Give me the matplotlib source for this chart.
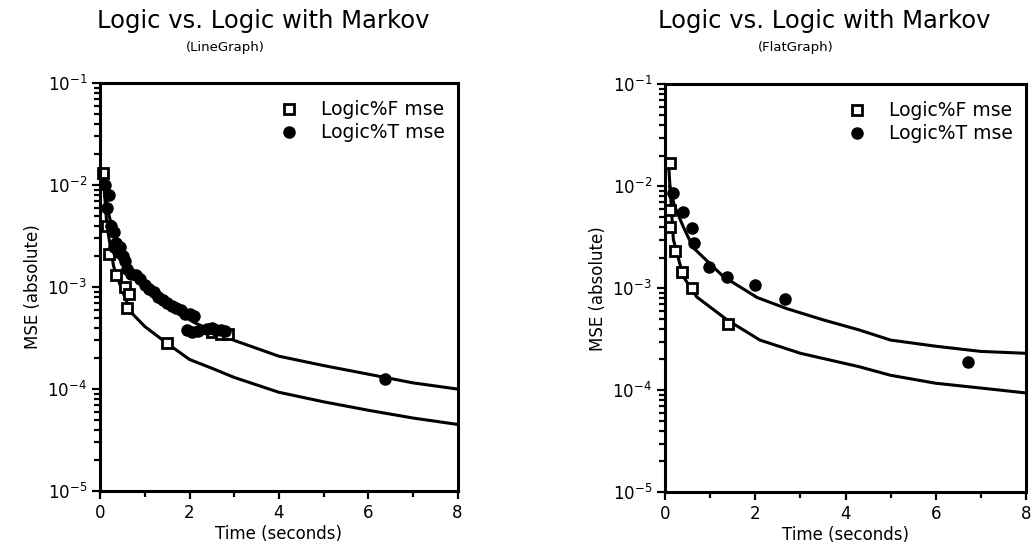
import numpy as np
import matplotlib
matplotlib.use("Agg")
import matplotlib.pyplot as plt
from matplotlib.ticker import MultipleLocator, LogLocator

# ---- left panel (LineGraph) ----
line_t_F = [0.07, 0.15, 0.3, 0.5, 0.7, 1.0, 1.5, 2.0, 2.5, 3.0, 4.0, 5.0, 6.0, 7.0, 8.0]
line_v_F = [1.2e-2, 4e-3, 1.6e-3, 9e-4, 5.6e-4, 4.1e-4, 2.8e-4, 1.95e-4, 1.6e-4,
            1.3e-4, 9.3e-5, 7.5e-5, 6.2e-5, 5.2e-5, 4.5e-5]
line_t_T = [0.08, 0.2, 0.35, 0.5, 0.8, 1.4, 2.1, 3.0, 4.0, 5.0, 6.0, 7.0, 8.0]
line_v_T = [1e-2, 5e-3, 2.8e-3, 1.9e-3, 1.25e-3, 7e-4, 4.5e-4, 3.0e-4, 2.1e-4,
            1.7e-4, 1.4e-4, 1.15e-4, 1.0e-4]

line_sq_t = [0.07, 0.15, 0.2, 0.35, 0.55, 0.6, 0.65, 1.5, 2.5, 2.7, 2.85]
line_sq_v = [1.3e-2, 4e-3, 2.1e-3, 1.3e-3, 1.0e-3, 6.3e-4, 8.5e-4, 2.8e-4,
             3.6e-4, 3.5e-4, 3.5e-4]
line_ci_t = [0.1, 0.15, 0.2, 0.25, 0.3, 0.3, 0.35, 0.4, 0.45, 0.5, 0.55, 0.6, 0.7,
             0.8, 0.9, 1.0, 1.1, 1.2, 1.3, 1.4, 1.5, 1.6, 1.7, 1.8, 1.9, 2.0, 2.1,
             1.95, 2.05, 2.2, 2.4, 2.5, 2.6, 2.7, 2.8, 6.37]
line_ci_v = [1e-2, 6e-3, 8e-3, 4e-3, 3.5e-3, 2.5e-3, 2.7e-3, 2.2e-3, 2.5e-3, 2.0e-3,
             1.8e-3, 1.5e-3, 1.35e-3, 1.3e-3, 1.2e-3, 1.05e-3, 9.5e-4, 9.0e-4,
             8.0e-4, 7.5e-4, 7.0e-4, 6.5e-4, 6.2e-4, 6.0e-4, 5.5e-4, 5.5e-4, 5.2e-4,
             3.8e-4, 3.6e-4, 3.7e-4, 3.9e-4, 4.0e-4, 3.8e-4, 3.8e-4, 3.7e-4, 1.25e-4]

# ---- right panel (FlatGraph) ----
flat_t_F = [0.08, 0.18, 0.4, 0.7, 1.37, 2.1, 3.0, 4.3, 5.0, 6.0, 7.0, 8.0]
flat_v_F = [1.5e-2, 3e-3, 1.3e-3, 8.2e-4, 4.9e-4, 3.1e-4, 2.3e-4, 1.7e-4, 1.4e-4,
            1.17e-4, 1.05e-4, 9.4e-5]
flat_t_T = [0.1, 0.2, 0.4, 0.62, 1.29, 2.04, 2.7, 3.5, 4.3, 5.0, 6.0, 7.0, 8.0]
flat_v_T = [1e-2, 6.5e-3, 4e-3, 2.5e-3, 1.3e-3, 8.1e-4, 6.3e-4, 4.9e-4, 3.9e-4,
            3.1e-4, 2.7e-4, 2.4e-4, 2.3e-4]

flat_sq_t = [0.11, 0.11, 0.11, 0.22, 0.37, 0.59, 1.4]
flat_sq_v = [1.7e-2, 5.8e-3, 4e-3, 2.3e-3, 1.45e-3, 1.0e-3, 4.5e-4]
flat_ci_t = [0.18, 0.4, 0.6, 0.63, 0.96, 1.37, 2.0, 2.66, 6.72]
flat_ci_v = [8.5e-3, 5.6e-3, 3.9e-3, 2.8e-3, 1.6e-3, 1.3e-3, 1.07e-3, 7.9e-4, 1.9e-4]

panels = [
    ("(LineGraph)", line_t_F, line_v_F, line_t_T, line_v_T,
     line_sq_t, line_sq_v, line_ci_t, line_ci_v),
    ("(FlatGraph)", flat_t_F, flat_v_F, flat_t_T, flat_v_T,
     flat_sq_t, flat_sq_v, flat_ci_t, flat_ci_v),
]

fig = plt.figure(figsize=(10.33, 5.58), dpi=100)
axes_rects = [[0.097, 0.120, 0.346, 0.731], [0.644, 0.118, 0.349, 0.731]]
title_x = [0.255, 0.798]
sub_x = [0.218, 0.770]

for i, (sub, tF, vF, tT, vT, sqt, sqv, cit, civ) in enumerate(panels):
    ax = fig.add_axes(axes_rects[i])
    ax.plot(tF, vF, color="black", lw=2.2)
    ax.plot(tT, vT, color="black", lw=2.2)
    ax.plot(sqt, sqv, ls="none", marker="s", ms=7, mfc="white", mec="black",
            mew=2, label="Logic%F mse", clip_on=False)
    ax.plot(cit, civ, ls="none", marker="o", ms=8, mfc="black", mec="black",
            label="Logic%T mse", clip_on=False)
    ax.set_yscale("log")
    ax.set_xlim(0, 8)
    ax.set_ylim(1e-5, 1e-1)
    ax.xaxis.set_major_locator(MultipleLocator(2))
    ax.xaxis.set_minor_locator(MultipleLocator(1))
    ax.yaxis.set_major_locator(LogLocator(base=10))
    ax.yaxis.set_minor_locator(LogLocator(base=10, subs=np.arange(2, 10)))
    ax.tick_params(which="both", top=False, right=False, direction="out",
                   width=1.6, labelsize=12)
    ax.tick_params(which="major", length=6)
    ax.tick_params(which="minor", length=4)
    for s in ax.spines.values():
        s.set_linewidth(2.2)
    ax.set_xlabel("Time (seconds)", fontsize=12, labelpad=2)
    ax.set_ylabel("MSE (absolute)", fontsize=12, labelpad=4)
    ax.legend(loc="upper right", bbox_to_anchor=(1.0, 0.99), frameon=False,
              fontsize=13.5, handlelength=1.0, handletextpad=1.2,
              labelspacing=0.2, borderaxespad=0.3)
    fig.text(title_x[i], 0.962, "Logic vs. Logic with Markov", fontsize=17.5,
             ha="center", va="center")
    fig.text(sub_x[i], 0.914, sub, fontsize=9.5, ha="center", va="center")

fig.savefig("out.png", dpi=100)
